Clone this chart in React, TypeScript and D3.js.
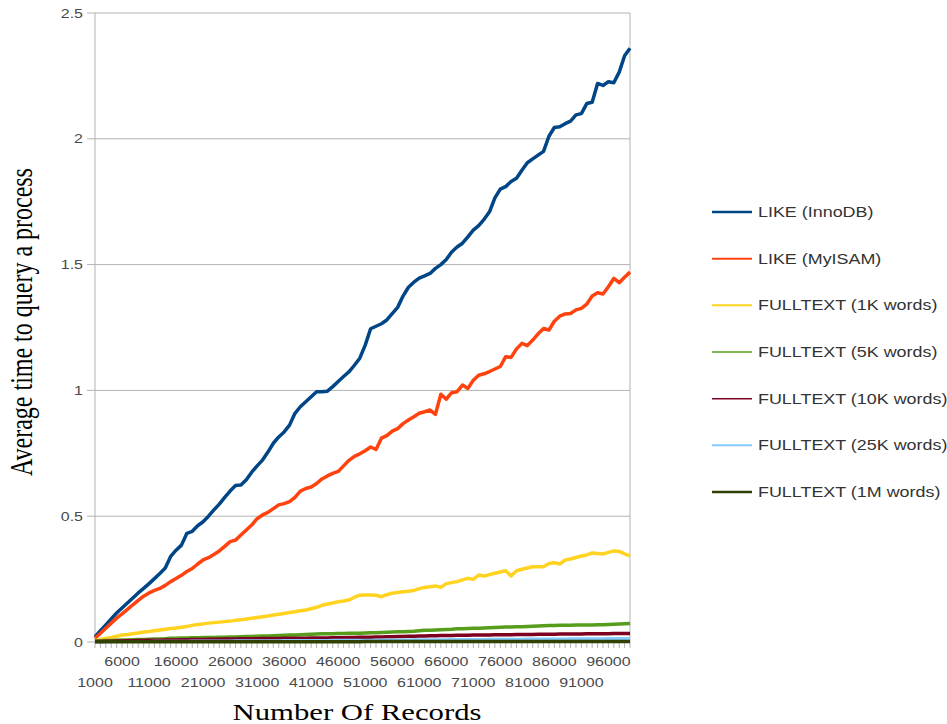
import * as d3 from 'd3';

const records = d3.range(1000, 100001, 1000);
const yTicks = [0, 0.5, 1, 1.5, 2, 2.5];
const xLabelsTop = ['6000', '16000', '26000', '36000', '46000', '56000', '66000', '76000', '86000', '96000'];
const xLabelsBottom = ['1000', '11000', '21000', '31000', '41000', '51000', '61000', '71000', '81000', '91000'];

const seriesNames = [
  'LIKE (InnoDB)', 'LIKE (MyISAM)', 'FULLTEXT (1K words)', 'FULLTEXT (5K words)',
  'FULLTEXT (10K words)', 'FULLTEXT (25K words)', 'FULLTEXT (1M words)',
];
const seriesColors = ['#004586', '#ff420e', '#ffd320', '#579d1c', '#7e0021', '#83caff', '#314004'];

const likeInnoDB = [
  0.020, 0.045, 0.068, 0.092, 0.115, 0.135, 0.155, 0.175, 0.195, 0.213,
  0.232, 0.252, 0.272, 0.294, 0.340, 0.365, 0.385, 0.432, 0.440, 0.462,
  0.478, 0.500, 0.525, 0.548, 0.575, 0.600, 0.622, 0.624, 0.645, 0.675,
  0.700, 0.723, 0.755, 0.790, 0.815, 0.835, 0.862, 0.909, 0.935, 0.955,
  0.975, 0.995, 0.995, 0.997, 1.015, 1.035, 1.055, 1.074, 1.100, 1.128,
  1.180, 1.245, 1.255, 1.265, 1.280, 1.305, 1.330, 1.375, 1.410, 1.430,
  1.446, 1.455, 1.465, 1.485, 1.500, 1.520, 1.550, 1.570, 1.585, 1.610,
  1.637, 1.655, 1.680, 1.710, 1.765, 1.800, 1.810, 1.830, 1.843, 1.875,
  1.905, 1.920, 1.935, 1.950, 2.010, 2.045, 2.048, 2.060, 2.070, 2.095,
  2.100, 2.140, 2.145, 2.220, 2.212, 2.227, 2.223, 2.265, 2.330, 2.360,
];
const likeMyISAM = [
  0.015, 0.035, 0.055, 0.075, 0.095, 0.112, 0.130, 0.148, 0.165, 0.182,
  0.195, 0.205, 0.213, 0.225, 0.240, 0.252, 0.265, 0.280, 0.292, 0.310,
  0.326, 0.335, 0.348, 0.362, 0.380, 0.399, 0.405, 0.425, 0.445, 0.465,
  0.490, 0.505, 0.515, 0.530, 0.545, 0.550, 0.558, 0.575, 0.600, 0.610,
  0.616, 0.630, 0.648, 0.660, 0.670, 0.678, 0.700, 0.722, 0.738, 0.748,
  0.760, 0.775, 0.765, 0.810, 0.820, 0.838, 0.848, 0.868, 0.882, 0.895,
  0.909, 0.915, 0.922, 0.905, 0.985, 0.965, 0.991, 0.995, 1.021, 1.008,
  1.040, 1.060, 1.066, 1.075, 1.085, 1.095, 1.134, 1.131, 1.165, 1.187,
  1.178, 1.200, 1.225, 1.246, 1.240, 1.275, 1.295, 1.304, 1.306, 1.320,
  1.326, 1.343, 1.375, 1.388, 1.383, 1.412, 1.445, 1.428, 1.450, 1.470,
];
const fulltext1K = [
  0.005, 0.010, 0.014, 0.018, 0.023, 0.028, 0.030, 0.033, 0.036, 0.040,
  0.042, 0.045, 0.048, 0.051, 0.054, 0.056, 0.059, 0.062, 0.066, 0.070,
  0.072, 0.075, 0.077, 0.079, 0.081, 0.083, 0.086, 0.088, 0.091, 0.094,
  0.097, 0.100, 0.103, 0.107, 0.110, 0.113, 0.117, 0.120, 0.124, 0.127,
  0.132, 0.138, 0.146, 0.151, 0.155, 0.160, 0.163, 0.167, 0.178, 0.186,
  0.187, 0.187, 0.186, 0.180, 0.188, 0.194, 0.197, 0.200, 0.202, 0.205,
  0.212, 0.217, 0.220, 0.223, 0.217, 0.232, 0.236, 0.240, 0.247, 0.253,
  0.249, 0.266, 0.262, 0.268, 0.273, 0.278, 0.283, 0.262, 0.283, 0.289,
  0.294, 0.299, 0.299, 0.299, 0.312, 0.315, 0.310, 0.326, 0.330, 0.336,
  0.342, 0.346, 0.354, 0.352, 0.350, 0.356, 0.362, 0.360, 0.350, 0.342,
];
const fulltext5K = [
  0.004, 0.005, 0.006, 0.006, 0.007, 0.008, 0.008, 0.009, 0.010, 0.010,
  0.011, 0.012, 0.012, 0.013, 0.015, 0.015, 0.016, 0.016, 0.017, 0.017,
  0.018, 0.018, 0.018, 0.019, 0.019, 0.020, 0.020, 0.021, 0.022, 0.022,
  0.023, 0.024, 0.024, 0.025, 0.026, 0.027, 0.028, 0.028, 0.029, 0.030,
  0.031, 0.032, 0.033, 0.033, 0.033, 0.034, 0.034, 0.035, 0.035, 0.035,
  0.036, 0.037, 0.037, 0.038, 0.039, 0.040, 0.041, 0.041, 0.042, 0.043,
  0.045, 0.047, 0.047, 0.048, 0.049, 0.050, 0.051, 0.053, 0.053, 0.054,
  0.055, 0.055, 0.056, 0.057, 0.058, 0.059, 0.060, 0.060, 0.061, 0.061,
  0.062, 0.063, 0.064, 0.065, 0.066, 0.066, 0.067, 0.067, 0.067, 0.068,
  0.068, 0.068, 0.068, 0.069, 0.069, 0.070, 0.071, 0.072, 0.073, 0.074,
];
const fulltext10K = [
  0.002, 0.002, 0.003, 0.003, 0.004, 0.004, 0.005, 0.005, 0.006, 0.006,
  0.007, 0.007, 0.007, 0.008, 0.008, 0.008, 0.009, 0.009, 0.010, 0.010,
  0.010, 0.011, 0.011, 0.011, 0.012, 0.012, 0.012, 0.013, 0.013, 0.013,
  0.013, 0.014, 0.014, 0.014, 0.014, 0.015, 0.015, 0.015, 0.015, 0.015,
  0.016, 0.016, 0.016, 0.016, 0.017, 0.017, 0.017, 0.018, 0.018, 0.019,
  0.019, 0.019, 0.020, 0.020, 0.021, 0.021, 0.022, 0.022, 0.023, 0.023,
  0.024, 0.024, 0.025, 0.025, 0.026, 0.026, 0.026, 0.027, 0.027, 0.027,
  0.028, 0.028, 0.028, 0.028, 0.029, 0.029, 0.029, 0.029, 0.030, 0.030,
  0.030, 0.030, 0.031, 0.031, 0.031, 0.031, 0.032, 0.032, 0.032, 0.032,
  0.032, 0.033, 0.033, 0.033, 0.033, 0.033, 0.034, 0.034, 0.034, 0.034,
];
const fulltext25K = [
  0.001, 0.001, 0.001, 0.001, 0.002, 0.002, 0.002, 0.002, 0.002, 0.002,
  0.002, 0.003, 0.003, 0.003, 0.003, 0.003, 0.003, 0.003, 0.004, 0.004,
  0.004, 0.004, 0.004, 0.004, 0.004, 0.004, 0.005, 0.005, 0.005, 0.005,
  0.005, 0.005, 0.005, 0.005, 0.005, 0.006, 0.006, 0.006, 0.006, 0.006,
  0.006, 0.006, 0.006, 0.006, 0.007, 0.007, 0.007, 0.007, 0.007, 0.007,
  0.007, 0.007, 0.008, 0.008, 0.008, 0.008, 0.008, 0.008, 0.008, 0.009,
  0.009, 0.009, 0.009, 0.009, 0.009, 0.009, 0.010, 0.010, 0.010, 0.010,
  0.010, 0.010, 0.010, 0.011, 0.011, 0.011, 0.011, 0.011, 0.011, 0.011,
  0.012, 0.012, 0.012, 0.012, 0.012, 0.012, 0.012, 0.012, 0.013, 0.013,
  0.013, 0.013, 0.013, 0.013, 0.013, 0.014, 0.014, 0.014, 0.014, 0.014,
];
const fulltext1M = [
  0.001, 0.001, 0.001, 0.001, 0.001, 0.001, 0.001, 0.001, 0.001, 0.001,
  0.001, 0.001, 0.001, 0.001, 0.001, 0.001, 0.001, 0.001, 0.001, 0.001,
  0.001, 0.001, 0.001, 0.001, 0.001, 0.001, 0.001, 0.001, 0.001, 0.001,
  0.001, 0.001, 0.001, 0.001, 0.001, 0.001, 0.001, 0.001, 0.001, 0.001,
  0.001, 0.001, 0.001, 0.001, 0.001, 0.001, 0.001, 0.001, 0.001, 0.001,
  0.002, 0.002, 0.002, 0.002, 0.002, 0.002, 0.002, 0.002, 0.002, 0.002,
  0.002, 0.002, 0.002, 0.002, 0.002, 0.002, 0.002, 0.002, 0.002, 0.002,
  0.002, 0.002, 0.002, 0.002, 0.002, 0.002, 0.002, 0.002, 0.002, 0.002,
  0.002, 0.002, 0.002, 0.002, 0.002, 0.002, 0.002, 0.002, 0.002, 0.002,
  0.002, 0.002, 0.002, 0.002, 0.002, 0.002, 0.002, 0.002, 0.002, 0.002,
];

const seriesValues = [likeInnoDB, likeMyISAM, fulltext1K, fulltext5K, fulltext10K, fulltext25K, fulltext1M];
const lineWidths = [3.5, 3.5, 3.5, 3.5, 3.5, 3, 3.5];
const legendWidths = [2.5, 2, 2, 1.6, 1.6, 2, 2.5];

// the source picture is stretched sideways, so text gets widened too
const SX = 1.28;
const sans = '"Liberation Sans", Arial, sans-serif';
const serif = '"Liberation Serif", "Times New Roman", serif';

const App = () => {
  const width = 947;
  const height = 724;
  const left = 95, right = 630, top = 13, bottom = 642;

  const x = d3.scalePoint<number>().domain(records).range([left, right]);
  const y = d3.scaleLinear().domain([0, 2.5]).range([bottom, top]);

  const line = d3.line<number>()
    .x((d, i) => x(records[i]) as number)
    .y(d => y(d));

  const stretched = (tx: number, ty: number) => `translate(${tx},${ty}) scale(${SX},1)`;

  return (
    <div style={{ position: 'absolute', left: 0, top: 0 }}>
      <svg width={width} height={height} style={{ display: 'block', background: '#fff' }}>
        {/* gridlines and y ticks */}
        {yTicks.map(t => (
          <g key={t}>
            <line x1={left - 8} x2={right} y1={y(t)} y2={y(t)} stroke="#b3b3b3" strokeWidth={1} />
            <text
              transform={stretched(83, y(t) + 4.5)}
              textAnchor="end"
              fontFamily={sans}
              fontSize={12.5}
              fill="#4a4a4a"
            >
              {t}
            </text>
          </g>
        ))}
        <line x1={left} x2={left} y1={top} y2={bottom} stroke="#b3b3b3" strokeWidth={1} />
        <line x1={right} x2={right} y1={top} y2={bottom} stroke="#b3b3b3" strokeWidth={1} />

        {/* x ticks */}
        {records.map(r => (
          <line key={r} x1={x(r)} x2={x(r)} y1={bottom} y2={bottom + 6} stroke="#b3b3b3" strokeWidth={1} />
        ))}
        {records.map((r, i) => {
          if (i % 5 !== 0) return null;
          const isTop = (i / 5) % 2 === 1;
          const label = isTop ? xLabelsTop[(i - 5) / 10] : xLabelsBottom[i / 10];
          return (
            <text
              key={r}
              transform={stretched(x(r) as number, isTop ? 666 : 687)}
              textAnchor="middle"
              fontFamily={sans}
              fontSize={12.5}
              fill="#4a4a4a"
            >
              {label}
            </text>
          );
        })}

        {/* series */}
        {seriesValues.map((vals, s) => (
          <path
            key={s}
            d={line(vals) || ''}
            fill="none"
            stroke={seriesColors[s]}
            strokeWidth={lineWidths[s]}
            strokeLinejoin="round"
          />
        ))}

        {/* axis titles */}
        <text
          transform={`translate(32,322) scale(${SX},1) rotate(-90)`}
          textAnchor="middle"
          fontFamily={serif}
          fontSize={24}
          fill="#000"
        >
          Average time to query a process
        </text>
        <text transform={stretched(357, 720)} textAnchor="middle" fontFamily={serif} fontSize={24} fill="#000">
          Number Of Records
        </text>

        {/* legend */}
        {seriesNames.map((name, s) => {
          const ly = 212 + s * 46.67;
          return (
            <g key={name}>
              <line x1={712} x2={752} y1={ly} y2={ly} stroke={seriesColors[s]} strokeWidth={legendWidths[s]} />
              <text transform={stretched(758, ly + 5)} fontFamily={sans} fontSize={14} fill="#333">
                {name}
              </text>
            </g>
          );
        })}
      </svg>
    </div>
  );
};

export default App;
